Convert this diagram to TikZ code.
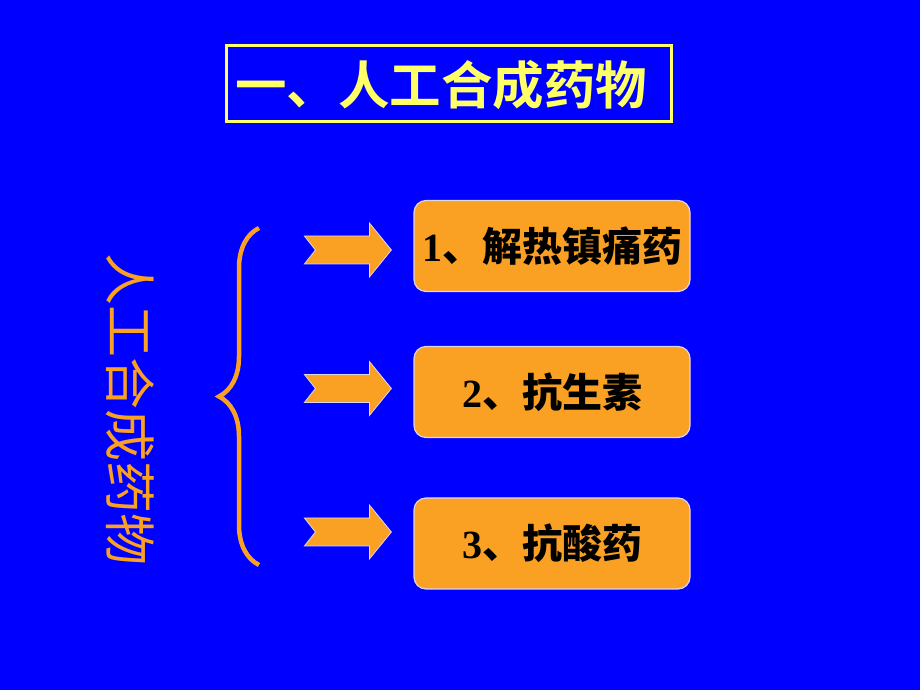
\documentclass[tikz,border=0pt]{standalone}
\usepackage{fontspec}
\setmainfont{Liberation Serif}
\newfontfamily\cjk{Noto Sans CJK SC}
\newfontfamily\cjkbold{Noto Sans CJK SC Bold}
\usetikzlibrary{decorations.pathreplacing}
\usetikzlibrary{positioning}
\definecolor{slideblue}{RGB}{0,0,255}
\definecolor{drugorange}{RGB}{250,160,35}
\definecolor{titleyellow}{RGB}{255,255,102}
\definecolor{rimgray}{RGB}{220,215,235}

\tikzset{
  drugbox/.style={draw=rimgray, line width=1.2pt, fill=drugorange, rounded corners=12pt,
    minimum width=276pt, minimum height=91pt, inner sep=0pt, font=\fontsize{40}{42}\selectfont\bfseries},
  fatarrow/.style={draw=rimgray, line width=0.8pt, fill=drugorange}
}

\begin{document}
\begin{tikzpicture}[x=1pt, y=1pt]

% background
  \fill[slideblue] (0,0) rectangle (920,690);
  \useasboundingbox (0,0) rectangle (920,690);

% title
  \node[draw=titleyellow, line width=3pt, minimum width=445pt, minimum height=76pt, inner sep=0pt] (title) at (449,606.5) {};
  \node[text=titleyellow, font=\cjkbold\fontsize{51.5}{54}\selectfont] (titletext) at (441,605) {一、人工合成药物};

% vertical label
  \node[text=drugorange, rotate=-90, font=\cjk\fontsize{52}{54}\selectfont] (side) at (130,280) {人工合成药物};

% brace
  \coordinate (bracebot) at (259,125);
  \coordinate (bracetop) at (259,462);
  \draw[drugorange, line width=4.5pt, decorate, decoration={brace, amplitude=40pt}] (bracebot) -- (bracetop);

% boxes
  \node[drugbox] (b1) at (552,444)   {1{\cjkbold 、解热镇痛药}};
  \node[drugbox] (b2) at (552,298)   {2{\cjkbold 、抗生素}};
  \node[drugbox] (b3) at (552,146.5) {3{\cjkbold 、抗酸药}};

% arrows
  \foreach \b/\dy in {b1/-4, b2/3.5, b3/11.5}
    \draw[fatarrow] ([xshift=-22pt, yshift=\dy pt]\b.west) -- ++(-22,27) -- ++(0,-13) -- ++(-65,0)
      -- ++(11,-14) -- ++(-11,-14) -- ++(65,0) -- ++(0,-13) -- cycle;

\end{tikzpicture}
\end{document}
